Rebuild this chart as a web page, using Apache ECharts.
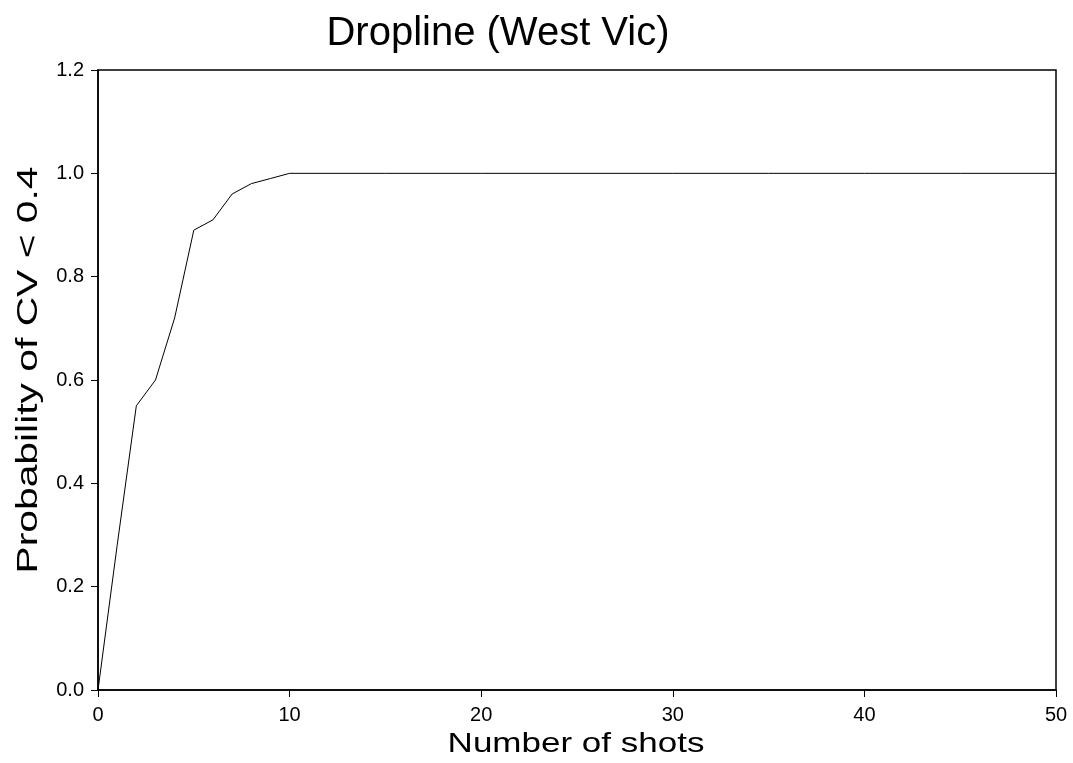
<!DOCTYPE html>
<html>
<head>
<meta charset="utf-8">
<script src="https://cdn.jsdelivr.net/npm/echarts@6/dist/echarts.min.js"></script>
<style>
  html, body { margin: 0; padding: 0; background: #fff; }
  #chart { width: 1073px; height: 763px; }
</style>
</head>
<body>
<div id="chart"></div>
<script>
// Number of shots and the probability that CV < 0.4
const shots = [0, 1, 2, 3, 4, 5, 6, 7, 8, 9, 10, 15, 20, 25, 30, 35, 40, 45, 50];
const probability = [0, 0.28, 0.55, 0.60, 0.72, 0.89, 0.91, 0.96, 0.98, 0.99, 1.0, 1.0, 1.0, 1.0, 1.0, 1.0, 1.0, 1.0, 1.0];
const xTicks = [0, 10, 20, 30, 40, 50];
const yTicks = [0.0, 0.2, 0.4, 0.6, 0.8, 1.0, 1.2];
const chartTitle = 'Dropline (West Vic)';
const xTitle = 'Number of shots';
const yTitle = 'Probability of CV < 0.4';

const fontFamily = '"Liberation Sans", Arial, sans-serif';
const chart = echarts.init(document.getElementById('chart'), null, { renderer: 'canvas' });

chart.setOption({
  backgroundColor: '#ffffff',
  animation: false,
  title: {
    text: chartTitle,
    left: 493,
    top: 9,
    textAlign: 'center',
    textStyle: { fontFamily: fontFamily, fontSize: 40, fontWeight: 'normal', color: '#000' }
  },
  grid: {
    left: 98, right: 17, top: 70, bottom: 73,
    show: true, borderColor: '#000', borderWidth: 1.5, backgroundColor: 'transparent'
  },
  // Axis titles are drawn in a wide, stretched face
  graphic: [
    {
      type: 'text',
      x: 576, y: 744,
      scaleX: 1.25,
      style: {
        text: xTitle,
        font: '28px ' + fontFamily,
        fill: '#000',
        align: 'center',
        verticalAlign: 'middle'
      }
    },
    {
      type: 'text',
      x: 29, y: 370,
      rotation: Math.PI / 2,
      scaleX: 1.36,
      style: {
        text: yTitle,
        font: '30px ' + fontFamily,
        fill: '#000',
        align: 'center',
        verticalAlign: 'middle'
      }
    }
  ],
  xAxis: {
    type: 'value',
    min: xTicks[0], max: xTicks[xTicks.length - 1], interval: xTicks[1] - xTicks[0],
    axisLine: { show: true, lineStyle: { color: '#000', width: 1.5 } },
    axisTick: { show: true, inside: false, length: 7, lineStyle: { color: '#000', width: 1 } },
    axisLabel: { margin: 15, fontFamily: fontFamily, fontSize: 20, color: '#000' },
    splitLine: { show: false }
  },
  yAxis: {
    type: 'value',
    min: yTicks[0], max: yTicks[yTicks.length - 1], interval: 0.2,
    axisLine: { show: true, lineStyle: { color: '#000', width: 1.5 } },
    axisTick: { show: true, inside: false, length: 7, lineStyle: { color: '#000', width: 1 } },
    axisLabel: {
      margin: 14, fontFamily: fontFamily, fontSize: 20, color: '#000',
      formatter: v => v.toFixed(1)
    },
    splitLine: { show: false }
  },
  series: [{
    type: 'line',
    data: shots.map((s, i) => [s, probability[i]]),
    showSymbol: false,
    symbol: 'none',
    lineStyle: { color: '#000', width: 1 }
  }]
});
</script>
</body>
</html>
